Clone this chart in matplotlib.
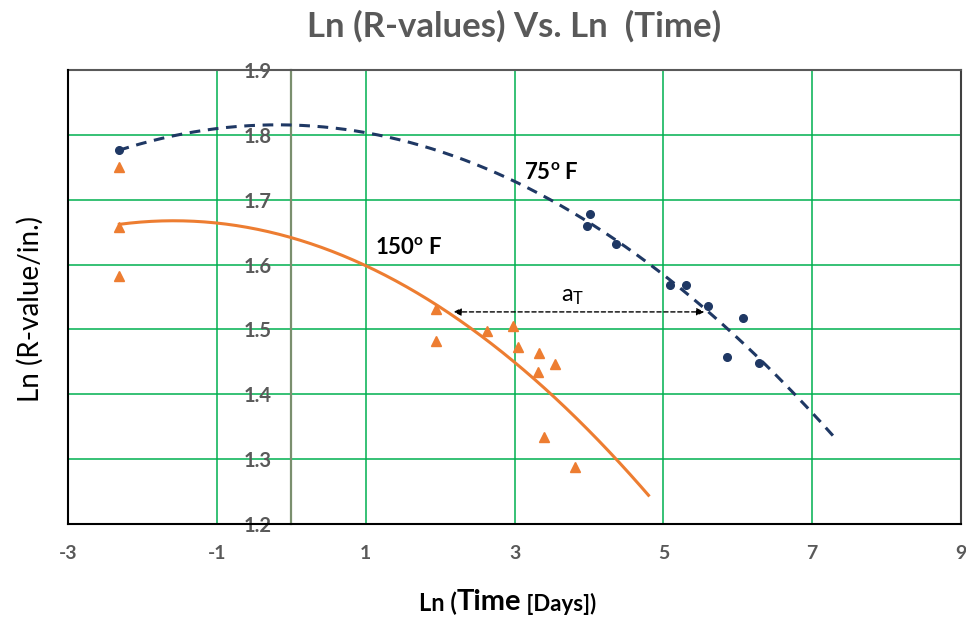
import numpy as np
import matplotlib.pyplot as plt

plt.rcParams['font.family'] = ['Lato', 'DejaVu Sans']
plt.rcParams['mathtext.fontset'] = 'custom'
plt.rcParams['mathtext.rm'] = 'Lato'
plt.rcParams['mathtext.bf'] = 'Lato:bold'
plt.rcParams['mathtext.it'] = 'Lato:italic'
plt.rcParams['axes.unicode_minus'] = False

# 75 F data (ln time, ln R-value)
blue_x = [-2.32, 3.98, 4.01, 4.36, 5.09, 5.31, 5.60, 5.86, 6.07, 6.28]
blue_y = [1.776, 1.659, 1.678, 1.631, 1.569, 1.569, 1.536, 1.457, 1.517, 1.448]

# 150 F data
orange_x = [-2.31, -2.31, -2.31, 1.94, 1.94, 2.63, 2.98, 3.05, 3.32, 3.33, 3.55, 3.40, 3.81]
orange_y = [1.750, 1.658, 1.582, 1.531, 1.482, 1.497, 1.505, 1.473, 1.435, 1.464, 1.447, 1.334, 1.288]

# trendline forward forecast end
blue_trend_end = 7.3
orange_trend_end = 4.8

x_ticks = [-3, -1, 1, 3, 5, 7, 9]
y_ticks = [1.2, 1.3, 1.4, 1.5, 1.6, 1.7, 1.8, 1.9]

GREEN = '#00B050'
BLUE = '#1F3864'
ORANGE = '#ED7D31'
GRAY = '#595959'

fig = plt.figure(figsize=(9.66, 6.24), dpi=100)
ax = fig.add_axes([0.0704, 0.1603, 0.9245, 0.7275])

ax.set_xlim(-3, 9)
ax.set_ylim(1.2, 1.9)
ax.set_xticks(x_ticks)
ax.set_yticks(y_ticks)
ax.set_yticklabels([f"{v:.1f}" for v in y_ticks])
ax.grid(True, color=GREEN, lw=1.1)
ax.set_axisbelow(True)

# y axis crosses at x = 0
ax.spines['left'].set_position(('data', 0))
ax.spines['left'].set_color('#7A8F6E')
ax.spines['left'].set_linewidth(1.6)
ax.spines['left'].set_zorder(1.5)
ax.spines['top'].set_color('#595959')
ax.spines['top'].set_linewidth(1.5)
ax.spines['right'].set_color('#404040')
ax.spines['right'].set_linewidth(1.5)
ax.spines['bottom'].set_color('black')
ax.spines['bottom'].set_linewidth(1.5)
ax.axvline(-3, color='black', lw=1.5, clip_on=False, zorder=3)

ax.tick_params(axis='x', length=0, pad=15, labelsize=14, labelcolor=GRAY)
ax.tick_params(axis='y', length=0, pad=14, labelsize=14.5, labelcolor=GRAY)
for lab in ax.get_xticklabels() + ax.get_yticklabels():
    lab.set_fontweight('bold')

# scatter points
ax.plot(blue_x, blue_y, 'o', color=BLUE, ms=5.5, zorder=4)
ax.plot(orange_x, orange_y, '^', color=ORANGE, ms=6.5, zorder=4)

# polynomial (order 2) trendlines
bc = np.polyfit(blue_x, blue_y, 2)
xb = np.linspace(min(blue_x), blue_trend_end, 200)
ax.plot(xb, np.polyval(bc, xb), '--', color=BLUE, lw=2.2, dashes=(3.5, 2.5), zorder=3)

oc = np.polyfit(orange_x, orange_y, 2)
xo = np.linspace(min(orange_x), orange_trend_end, 200)
ax.plot(xo, np.polyval(oc, xo), '-', color=ORANGE, lw=2.2, zorder=3)

# shift arrow
ax.annotate('', xy=(2.18, 1.527), xytext=(5.55, 1.527),
            arrowprops=dict(arrowstyle='<|-|>', ls=(0, (3, 2)), color='black',
                            lw=1, mutation_scale=11, shrinkA=0, shrinkB=0), zorder=5)
ax.text(3.62, 1.550, r'a$_\mathregular{T}$', fontsize=17, color='black', va='center')

ax.text(3.13, 1.742, r'$\mathbf{75^o}$ F', fontsize=16, fontweight='bold', va='center')
ax.text(1.12, 1.626, r'$\mathbf{150^o}$ F', fontsize=16, fontweight='bold', va='center')

ax.set_title('Ln (R-values) Vs. Ln  (Time)', fontsize=25, fontweight='bold', color=GRAY, pad=24)
fig.text(0.031, 0.505, 'Ln (R-value/in.)', rotation=90, fontsize=20, ha='center', va='center')

# x label in mixed sizes
t_mid = fig.text(0.506, 0.022, 'Time', fontsize=21, fontweight='bold', ha='center', va='baseline')
ax.annotate('Ln (', xy=(0, 0), xycoords=t_mid, fontsize=17, fontweight='bold',
            ha='right', va='bottom', annotation_clip=False)
ax.annotate(' [Days])', xy=(1, 0), xycoords=t_mid, fontsize=16, fontweight='bold',
            ha='left', va='bottom', annotation_clip=False)

fig.savefig('out.png', dpi=100)
